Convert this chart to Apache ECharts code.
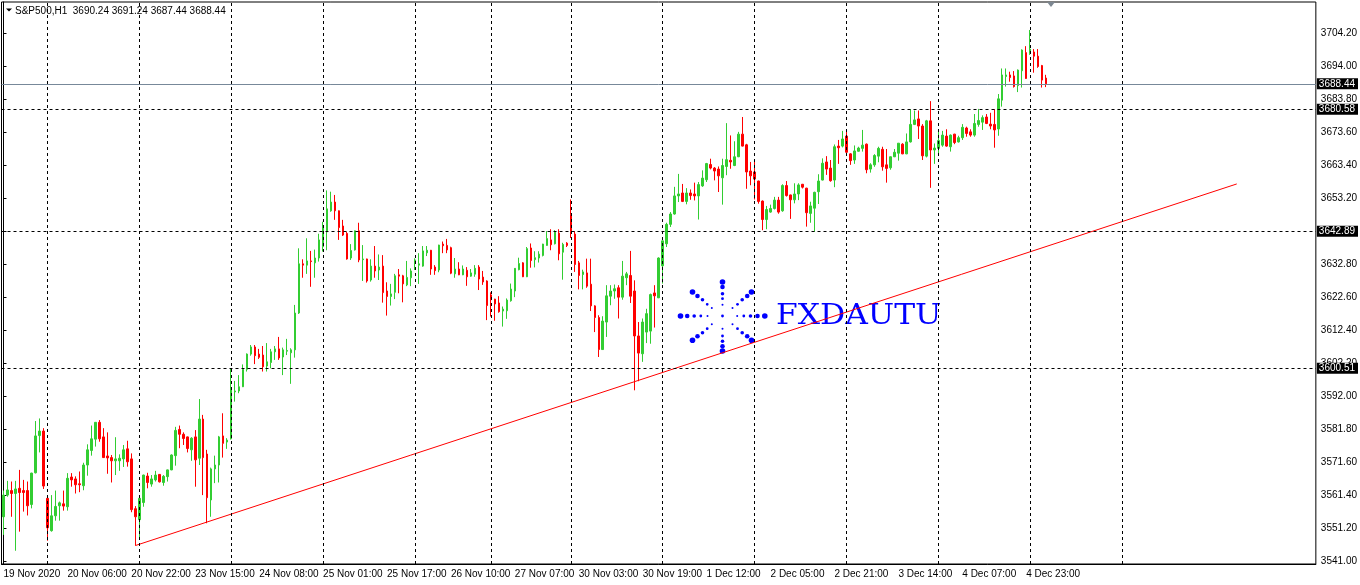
<!DOCTYPE html>
<html><head><meta charset="utf-8">
<script src="https://cdn.jsdelivr.net/npm/echarts@6/dist/echarts.min.js"></script>
<style>html,body{margin:0;padding:0;background:#fff}#c{width:1360px;height:585px}</style>
</head><body><div id="c"></div>
<script>
// ---------------- data ----------------
const symbolName = 'S&P500,H1';
const lastBarOHLC = [3690.24, 3691.24, 3687.44, 3688.44];
const xLabels = ['19 Nov 2020','20 Nov 06:00','20 Nov 22:00','23 Nov 15:00','24 Nov 08:00','25 Nov 01:00',
  '25 Nov 17:00','26 Nov 10:00','27 Nov 07:00','30 Nov 03:00','30 Nov 19:00','1 Dec 12:00','2 Dec 05:00',
  '2 Dec 21:00','3 Dec 14:00','4 Dec 07:00','4 Dec 23:00'];
const xLabelStep = 16;
const totalSlots = 329;
const yTicks = [3541.0,3551.2,3561.4,3571.6,3581.8,3592.0,3602.2,3612.4,3622.6,3632.8,3643.0,3653.2,3663.4,3673.6,3683.8,3694.0,3704.2];
const yMin = 3540.0, yMax = 3713.75;
const bidPrice = 3688.44;
const levelPrices = [3680.58, 3642.89, 3600.51];
const daySeparators = [11,34,57,80,103,122,142,165,188,211,234,257,280];
const trendline = [[33,3545.7],[308.7,3657.5]];
// [open, close, low, high]
const ohlc = [
[3554.6,3561.3,3549.0,3562.7],[3561.3,3562.9,3560.8,3565.7],[3562.7,3561.8,3554.6,3565.5],[3561.8,3563.2,3544.1,3565.7],
[3563.4,3562.1,3550.0,3569.1],[3562.7,3562.1,3556.2,3566.0],[3562.7,3558.0,3555.0,3565.5],[3558.4,3568.1,3557.2,3568.2],
[3568.2,3579.6,3568.0,3584.2],[3579.7,3581.1,3574.5,3585.0],[3581.1,3564.1,3563.2,3582.0],[3560.3,3551.2,3547.2,3560.8],
[3550.3,3554.9,3550.0,3561.3],[3554.9,3557.8,3553.4,3562.7],[3558.0,3558.9,3553.4,3559.3],[3558.6,3557.9,3556.5,3562.7],
[3557.7,3566.5,3556.5,3568.1],[3566.9,3566.0,3563.9,3568.1],[3566.3,3564.5,3561.8,3567.1],[3564.8,3564.5,3562.2,3568.6],
[3564.2,3570.6,3562.8,3571.3],[3570.6,3575.3,3567.3,3577.0],[3575.1,3578.7,3573.5,3582.8],[3578.6,3583.8,3576.3,3583.9],
[3583.8,3578.7,3577.8,3584.5],[3579.3,3572.9,3572.8,3582.0],[3573.4,3572.8,3567.9,3580.7],[3572.9,3571.9,3565.2,3573.7],
[3571.9,3572.5,3567.5,3579.2],[3571.9,3572.7,3568.8,3573.9],[3572.5,3575.3,3570.0,3576.8],[3575.6,3571.6,3570.1,3578.1],
[3572.5,3556.8,3556.0,3574.2],[3557.1,3554.6,3545.7,3557.9],[3553.7,3560.3,3548.0,3560.5],[3559.0,3567.5,3557.7,3567.6],
[3567.2,3565.2,3563.4,3568.2],[3564.7,3566.3,3563.9,3567.5],[3566.0,3567.5,3565.5,3568.8],[3567.7,3565.4,3565.2,3567.8],
[3565.2,3567.1,3564.2,3567.5],[3567.0,3569.1,3565.5,3569.2],[3569.1,3573.7,3569.0,3573.9],[3573.5,3581.3,3570.4,3582.4],
[3581.6,3580.1,3575.8,3582.8],[3580.1,3578.8,3576.8,3580.7],[3579.3,3575.7,3574.5,3579.4],[3575.3,3578.9,3571.9,3579.2],
[3579.3,3572.2,3563.9,3581.4],[3572.7,3584.8,3570.6,3591.0],[3584.8,3572.9,3561.3,3586.1],[3574.0,3560.5,3552.6,3575.3],
[3559.8,3569.4,3554.6,3569.8],[3569.4,3570.6,3565.0,3573.5],[3570.6,3579.3,3565.2,3579.6],[3579.6,3577.3,3572.9,3586.6],
[3577.7,3578.3,3575.6,3578.9],[3578.7,3594.4,3578.5,3600.5],[3593.2,3593.5,3590.2,3596.6],[3593.5,3594.8,3592.8,3598.4],
[3594.8,3600.2,3594.7,3601.7],[3600.2,3604.9,3599.5,3605.1],[3604.9,3607.1,3604.4,3607.7],[3607.1,3604.4,3601.8,3607.7],
[3604.9,3603.9,3603.4,3606.5],[3604.6,3601.0,3599.5,3607.4],[3601.2,3602.5,3599.5,3608.3],[3602.3,3605.6,3600.5,3606.5],
[3605.6,3606.5,3603.1,3607.4],[3606.5,3603.7,3603.1,3610.2],[3604.0,3606.2,3598.4,3606.9],[3605.8,3606.0,3604.6,3609.6],
[3605.3,3606.2,3595.7,3606.7],[3606.2,3617.6,3603.8,3620.1],[3617.6,3632.8,3617.3,3637.6],[3632.8,3632.4,3628.5,3634.2],
[3632.4,3633.7,3629.7,3640.7],[3633.7,3633.5,3625.7,3636.8],[3633.1,3634.6,3628.5,3637.2],[3634.6,3640.2,3633.5,3642.1],
[3638.1,3644.2,3636.6,3645.8],[3642.7,3649.8,3637.0,3655.5],[3649.2,3651.9,3648.9,3655.1],[3651.9,3649.2,3646.4,3654.1],
[3649.2,3644.0,3640.2,3649.3],[3644.5,3641.7,3641.4,3646.4],[3642.2,3634.3,3634.1,3642.7],[3634.6,3636.9,3634.0,3638.9],
[3637.1,3643.0,3636.9,3643.1],[3643.0,3634.0,3633.3,3645.5],[3634.1,3634.3,3627.5,3638.6],[3634.3,3627.5,3627.0,3634.4],
[3627.8,3632.1,3627.3,3634.2],[3632.1,3630.6,3628.5,3638.3],[3630.9,3631.8,3627.8,3635.7],[3632.1,3623.9,3620.8,3635.5],
[3624.4,3622.7,3616.8,3627.1],[3622.7,3623.5,3619.9,3626.6],[3624.0,3629.1,3621.9,3629.7],[3629.4,3629.0,3623.7,3631.2],
[3629.1,3626.6,3620.9,3629.4],[3626.3,3628.6,3625.9,3633.7],[3628.5,3630.6,3625.9,3631.4],[3633.7,3634.0,3630.9,3634.5],
[3632.4,3632.8,3626.6,3636.1],[3632.1,3636.8,3631.9,3638.3],[3636.2,3637.0,3635.2,3638.3],[3637.0,3631.2,3629.4,3637.1],
[3631.8,3630.7,3629.4,3632.4],[3630.9,3638.6,3630.2,3638.7],[3638.9,3638.4,3636.1,3639.7],[3638.5,3637.1,3636.1,3640.5],
[3637.8,3629.9,3629.6,3638.1],[3629.7,3631.2,3628.5,3634.6],[3631.2,3629.4,3629.3,3633.3],[3629.4,3631.2,3629.3,3632.3],
[3630.8,3628.8,3626.0,3631.8],[3629.0,3630.0,3628.8,3631.2],[3629.6,3631.4,3628.8,3632.4],[3631.8,3628.1,3624.7,3632.4],
[3628.7,3627.2,3626.3,3630.6],[3627.5,3619.9,3615.4,3627.7],[3623.2,3621.7,3616.5,3624.0],[3621.9,3620.4,3615.2,3622.0],
[3620.7,3618.0,3617.7,3622.8],[3618.2,3618.8,3613.4,3619.6],[3618.3,3621.6,3615.8,3622.1],[3621.4,3625.0,3621.1,3626.7],
[3624.4,3631.4,3622.5,3631.5],[3631.0,3632.9,3630.8,3634.7],[3633.1,3628.8,3628.7,3633.3],[3628.8,3637.5,3628.7,3638.0],
[3637.7,3633.8,3631.6,3639.1],[3634.1,3634.7,3631.7,3636.7],[3634.6,3635.8,3633.2,3636.7],[3635.4,3638.9,3635.1,3639.0],
[3638.5,3640.6,3638.4,3642.9],[3640.2,3638.7,3637.0,3643.5],[3639.0,3642.6,3638.8,3643.2],[3642.3,3635.9,3633.9,3643.5],
[3636.4,3638.8,3627.9,3639.3],[3639.2,3638.5,3638.0,3639.5],[3648.0,3642.9,3640.8,3652.7],[3642.0,3632.6,3630.3,3642.9],
[3633.1,3629.2,3624.9,3633.7],[3629.5,3630.3,3624.9,3631.0],[3630.0,3625.9,3625.4,3634.4],[3626.5,3619.8,3618.2,3634.4],
[3619.8,3616.2,3611.7,3620.0],[3616.2,3606.3,3604.0,3616.9],[3606.3,3615.1,3606.2,3616.6],[3614.8,3622.9,3610.2,3626.2],
[3622.8,3624.4,3620.0,3626.2],[3624.4,3625.1,3622.0,3626.4],[3625.4,3622.5,3615.9,3626.2],[3622.5,3629.0,3621.7,3633.7],
[3628.5,3629.7,3626.2,3630.3],[3629.2,3622.8,3620.7,3636.8],[3624.4,3610.5,3593.7,3627.7],[3610.5,3605.2,3596.5,3614.8],
[3605.0,3614.8,3602.5,3615.9],[3611.7,3617.4,3608.3,3618.9],[3612.0,3623.3,3608.1,3623.6],[3623.8,3622.9,3613.1,3626.2],
[3622.3,3634.6,3622.2,3634.8],[3632.2,3639.9,3626.7,3640.0],[3639.0,3645.0,3638.0,3645.5],[3645.0,3648.2,3644.2,3648.8],
[3648.2,3653.8,3648.0,3656.6],[3653.8,3654.4,3651.9,3660.6],[3654.7,3652.1,3651.9,3657.5],[3652.1,3654.7,3651.2,3656.2],
[3654.7,3653.9,3652.6,3655.8],[3654.4,3653.8,3652.4,3657.9],[3653.8,3657.3,3646.5,3658.1],[3656.9,3659.3,3656.6,3661.7],
[3658.8,3663.8,3658.1,3664.0],[3663.5,3662.4,3662.0,3665.3],[3662.4,3661.5,3658.6,3662.7],[3662.1,3660.0,3655.0,3662.9],
[3659.4,3663.2,3651.1,3665.3],[3662.9,3665.0,3660.2,3676.3],[3664.8,3664.3,3662.2,3672.5],[3663.2,3665.9,3663.0,3670.7],
[3665.9,3672.9,3665.8,3673.6],[3672.9,3669.2,3669.1,3678.2],[3669.6,3661.2,3656.0,3669.9],[3661.5,3660.0,3657.1,3664.3],
[3661.2,3659.0,3652.7,3664.5],[3658.4,3652.1,3651.4,3658.5],[3652.2,3646.5,3643.2,3652.4],[3646.5,3649.6,3643.5,3650.7],
[3648.8,3649.9,3648.6,3651.1],[3649.9,3652.5,3649.6,3653.5],[3652.5,3648.8,3648.3,3653.5],[3649.2,3657.0,3648.9,3657.4],
[3657.0,3653.9,3653.6,3658.4],[3654.1,3652.6,3646.7,3654.2],[3652.6,3654.4,3651.5,3657.7],[3654.4,3657.2,3652.5,3657.7],
[3657.4,3656.5,3656.1,3657.5],[3656.2,3648.6,3644.3,3656.3],[3648.4,3650.7,3645.5,3652.0],[3650.0,3654.9,3642.7,3655.1],
[3655.1,3658.4,3651.3,3660.5],[3658.7,3663.9,3658.6,3665.4],[3664.3,3662.1,3660.3,3666.1],[3662.4,3658.5,3658.2,3664.9],
[3658.7,3669.0,3656.5,3669.7],[3669.2,3668.7,3663.7,3671.1],[3669.2,3671.4,3668.8,3673.9],[3672.3,3667.3,3666.4,3673.7],
[3666.8,3664.7,3663.4,3667.0],[3664.9,3667.7,3663.7,3669.4],[3667.6,3668.6,3667.5,3669.0],[3668.5,3669.5,3667.5,3674.2],
[3669.8,3661.9,3660.8,3670.0],[3662.1,3663.4,3661.0,3663.9],[3663.4,3666.3,3662.8,3666.7],[3666.1,3668.5,3664.2,3669.0],
[3668.2,3662.8,3661.6,3669.0],[3663.4,3662.3,3657.9,3668.3],[3662.5,3665.9,3661.9,3666.0],[3665.9,3667.3,3665.8,3668.3],
[3667.0,3670.1,3664.7,3670.1],[3669.8,3666.8,3666.7,3670.1],[3666.8,3670.5,3666.7,3673.1],[3670.5,3675.9,3670.3,3680.6],
[3675.9,3677.3,3675.7,3680.2],[3677.6,3675.4,3671.4,3680.2],[3675.4,3666.2,3664.9,3676.0],[3666.1,3677.0,3665.7,3677.3],
[3677.0,3668.0,3656.3,3683.1],[3668.0,3668.6,3663.7,3670.0],[3668.5,3670.9,3666.4,3674.2],[3669.5,3672.6,3669.0,3673.9],
[3672.3,3669.2,3669.0,3674.4],[3669.0,3672.6,3667.5,3672.8],[3672.9,3670.3,3669.8,3673.0],[3670.5,3671.8,3670.3,3672.4],
[3671.8,3675.0,3671.1,3676.0],[3674.8,3673.1,3672.1,3675.2],[3673.6,3672.6,3672.1,3674.4],[3672.6,3676.2,3672.1,3679.1],
[3675.9,3677.1,3675.2,3680.7],[3676.6,3678.0,3674.2,3678.7],[3678.2,3676.2,3676.0,3679.1],[3676.0,3675.4,3674.4,3679.5],
[3675.9,3674.2,3668.7,3680.6],[3674.5,3683.8,3672.4,3685.3],[3683.4,3691.2,3681.4,3693.2],[3690.7,3691.2,3687.6,3693.2],
[3691.2,3690.4,3689.1,3692.2],[3690.9,3687.6,3687.3,3692.4],[3687.9,3692.7,3685.9,3692.9],[3692.5,3698.9,3687.3,3699.1],
[3698.1,3690.1,3690.0,3700.1],[3697.8,3699.2,3697.4,3705.1],[3698.3,3697.0,3691.9,3699.2],[3697.0,3693.8,3693.4,3699.2],
[3694.1,3689.6,3687.3,3694.3],[3690.24,3688.44,3687.44,3691.24]
];

// ---------------- chart ----------------
const FONT = 'Liberation Sans, Arial, sans-serif';
const categories = Array.from({length: totalSlots}, (_, i) => String(i));
const chart = echarts.init(document.getElementById('c'), null, {renderer: 'canvas'});

// starburst watermark (decoration)
const burstCenter = [722.5, 316];
const rays = [
  [[0,-11.3],[0,-17.3],[0,-22.3],[0,-29],[0,-34]],
  [[0,12.7],[0,20],[0,25.3],[0,30.3],[0,35]],
  [[-15,0],[-21.7,0],[-28.3,0],[-35.3,0],[-42,0]],
  [[14.7,0],[21.3,0],[28,0],[35,0],[42.3,0]],
  [[-10.7,-8],[-15.3,-11.7],[-20,-16.3],[-25,-20],[-30,-24]],
  [[10,-8],[15,-11.7],[19.7,-16.3],[24.7,-20],[29,-24]],
  [[-10.7,8.3],[-15.3,12.7],[-20,16.7],[-25,20.3],[-30,24.3]],
  [[10,8.3],[15,12.7],[19.7,16.7],[24.7,20.3],[29,24.3]]
];
const radii = [1.0, 1.4, 1.8, 2.3, 2.8];
const burst = [{type:'circle', shape:{cx:burstCenter[0], cy:burstCenter[1], r:1.4}, style:{fill:'#0000ff'}}];
rays.forEach(r => r.forEach((p, k) => burst.push({type:'circle', shape:{cx:burstCenter[0]+p[0], cy:burstCenter[1]+p[1], r:radii[k]}, style:{fill:'#0000ff'}})));

const headerText = symbolName + '  ' + lastBarOHLC.map(v => v.toFixed(2)).join(' ');

const levelLabel = {
  show: true, position: 'end', distance: 1,
  formatter: p => Number(p.value).toFixed(2),
  color: '#fff', backgroundColor: '#000', padding: [1, 3, 0, 2],
  fontSize: 10, lineHeight: 10, fontFamily: FONT
};

const option = {
  animation: false,
  backgroundColor: '#fff',
  grid: {left: 1.5, right: 42.5, top: 2, bottom: 21, show: true, borderColor: '#000', borderWidth: 1},
  xAxis: [
    {
      type: 'category', data: categories, boundaryGap: true,
      axisLine: {show: true, lineStyle: {color: '#000', width: 1}},
      axisTick: {show: false},
      axisLabel: {
        interval: (i) => i % xLabelStep === 0 && i / xLabelStep < xLabels.length,
        formatter: (v, i) => xLabels[Math.round(Number(v) / xLabelStep)] || '',
        align: 'left', margin: 5, color: '#000', fontSize: 10, fontFamily: FONT, hideOverlap: false
      },
      splitLine: {show: false}
    },
    {type: 'value', min: -0.5, max: totalSlots - 0.5, show: false}
  ],
  yAxis: {
    type: 'value', position: 'right', min: yMin, max: yMax,
    axisLine: {show: true, lineStyle: {color: '#000', width: 1}},
    axisTick: {show: true, inside: false, length: 3, customValues: yTicks, lineStyle: {color: '#000'}},
    axisLabel: {customValues: yTicks, formatter: v => Number(v).toFixed(2), margin: 5, color: '#000', fontSize: 10, fontFamily: FONT},
    splitLine: {show: false}
  },
  graphic: [
    {type: 'group', z: 0, children: burst.concat([
      {type: 'text', x: 776, y: 317, scaleX: 1.16, style: {text: 'FXDAUTU', fontSize: 27, fontFamily: 'DejaVu Serif', fill: '#0000ff', textVerticalAlign: 'middle'}}
    ])},
    {type: 'polygon', z: 10, shape: {points: [[6, 8.5], [12, 8.5], [9, 11.5]]}, style: {fill: '#000'}},
    {type: 'text', z: 10, x: 15, y: 11, style: {text: headerText, fontSize: 10, fontFamily: FONT, fill: '#000', textVerticalAlign: 'middle'}},
    {type: 'polygon', z: 10, shape: {points: [[1047, 2], [1055, 2], [1051, 7]]}, style: {fill: '#7d8791'}}
  ],
  series: [
    {
      name: 'grid', type: 'line', xAxisIndex: 1, data: [], z: 1, silent: true,
      markLine: {
        silent: true, symbol: ['none', 'none'], label: {show: false},
        lineStyle: {color: '#000', type: [3, 3], width: 1},
        data: daySeparators.map(v => ({xAxis: v}))
      }
    },
    {
      name: 'candles', type: 'candlestick', xAxisIndex: 0, data: ohlc, barWidth: 2, z: 3,
      itemStyle: {color: '#32cd32', color0: '#ff0000', borderColor: '#32cd32', borderColor0: '#ff0000', borderWidth: 1}
    },
    {
      name: 'trend', type: 'line', xAxisIndex: 1, data: trendline, z: 4, symbol: 'none', silent: true,
      lineStyle: {color: '#ff0000', width: 1}
    },
    {
      name: 'levels', type: 'line', xAxisIndex: 1, data: [], z: 5, silent: true, clip: false,
      markLine: {
        silent: true, symbol: ['none', 'none'],
        data: levelPrices.map(v => ({yAxis: v, lineStyle: {color: '#000', type: [3, 3], width: 1}, label: levelLabel}))
          .concat([{yAxis: bidPrice, lineStyle: {color: '#778899', type: 'solid', width: 1}, label: levelLabel}])
      }
    }
  ]
};
chart.setOption(option);
</script>
</body></html>
